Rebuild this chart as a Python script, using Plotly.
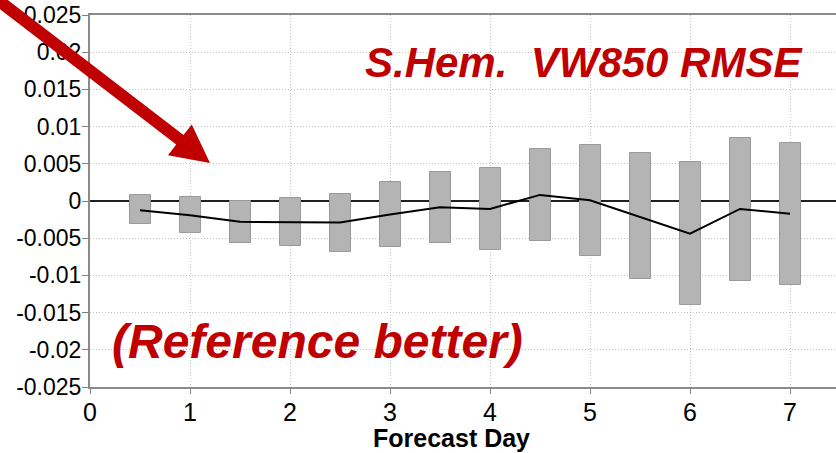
import math
import plotly.graph_objects as go

# Forecast day for each verification point
days = [0.5, 1.0, 1.5, 2.0, 2.5, 3.0, 3.5, 4.0, 4.5, 5.0, 5.5, 6.0, 6.5, 7.0]
# Mean RMSE difference (experiment minus reference)
mean_diff = [-0.00125, -0.0019, -0.0028, -0.0028, -0.0029, -0.0018, -0.00085, -0.00107,
             0.00082, 0.0001, -0.0021, -0.0044, -0.00107, -0.0017]
# Confidence interval bounds
ci_upper = [0.00086, 0.00055, 0.00005, 0.0004, 0.00095, 0.0025, 0.0039, 0.0045,
            0.0070, 0.0075, 0.0065, 0.0053, 0.0085, 0.0078]
ci_lower = [-0.0031, -0.0043, -0.0057, -0.0061, -0.0068, -0.0062, -0.0056, -0.0066,
            -0.0054, -0.0074, -0.0105, -0.0140, -0.0107, -0.0113]

x_ticks = [0, 1, 2, 3, 4, 5, 6, 7]
y_ticks = [0.025, 0.02, 0.015, 0.01, 0.005, 0, -0.005, -0.01, -0.015, -0.02, -0.025]
y_tick_text = ["0.025", "0.02", "0.015", "0.01", "0.005", "0", "-0.005", "-0.01",
               "-0.015", "-0.02", "-0.025"]

W, H = 836, 453
ML, MR, MT, MB = 90, 0, 15, 66
PW, PH = W - ML - MR, H - MT - MB

FONT = "Liberation Sans, Arial, Helvetica, sans-serif"
RED = "#c00000"

fig = go.Figure()

fig.add_trace(go.Bar(
    x=days,
    base=ci_lower,
    y=[u - l for u, l in zip(ci_upper, ci_lower)],
    width=0.21,
    marker=dict(color="#b4b4b4", line=dict(color="#9a9a9a", width=1)),
    hoverinfo="skip",
    showlegend=False,
))

fig.add_trace(go.Scatter(
    x=days, y=mean_diff, mode="lines",
    line=dict(color="black", width=2),
    showlegend=False,
))


# Arrow pointing into the plot from the top-left corner, built in pixel space
def to_paper(px, py):
    return (px - ML) / PW, (H - MB - py) / PH


tip = (210.0, 163.0)
dx, dy = 147.0, 113.0
n = math.hypot(dx, dy)
d = (dx / n, dy / n)
nrm = (-d[1], d[0])
head_len, head_half, shaft_half = 38.0, 19.5, 6.0
base = (tip[0] - head_len * d[0], tip[1] - head_len * d[1])
tail = (base[0] - 400 * d[0], base[1] - 400 * d[1])
pts = [
    tip,
    (base[0] + head_half * nrm[0], base[1] + head_half * nrm[1]),
    (base[0] + shaft_half * nrm[0], base[1] + shaft_half * nrm[1]),
    (tail[0] + shaft_half * nrm[0], tail[1] + shaft_half * nrm[1]),
    (tail[0] - shaft_half * nrm[0], tail[1] - shaft_half * nrm[1]),
    (base[0] - shaft_half * nrm[0], base[1] - shaft_half * nrm[1]),
    (base[0] - head_half * nrm[0], base[1] - head_half * nrm[1]),
]
path = "M " + " L ".join("%.5f,%.5f" % to_paper(*p) for p in pts) + " Z"
fig.add_shape(type="path", path=path, xref="paper", yref="paper",
              fillcolor=RED, line=dict(width=0), layer="above")

fig.add_annotation(
    x=(584 - ML) / PW, y=(H - MB - 62) / PH, xref="paper", yref="paper",
    text="<b><i>S.Hem.  VW850 RMSE</i></b>", showarrow=False,
    font=dict(family=FONT, size=42, color=RED), xanchor="center", yanchor="middle",
)
fig.add_annotation(
    x=(317 - ML) / PW, y=(H - MB - 341) / PH, xref="paper", yref="paper",
    text="<b><i>(Reference better)</i></b>", showarrow=False,
    font=dict(family=FONT, size=48, color=RED), xanchor="center", yanchor="middle",
)
fig.add_annotation(
    x=(451 - ML) / PW, y=(H - MB - 438) / PH, xref="paper", yref="paper",
    text="<b>Forecast Day</b>", showarrow=False,
    font=dict(family=FONT, size=25, color="black"), xanchor="center", yanchor="middle",
)

GRID = dict(showgrid=True, gridcolor="#c4c4c4", griddash="1px,2px", gridwidth=1)

fig.update_layout(
    width=W, height=H,
    margin=dict(l=ML, r=MR, t=MT, b=MB, pad=0),
    paper_bgcolor="white", plot_bgcolor="white",
    bargap=0,
    font=dict(family=FONT, color="black"),
    xaxis=dict(
        range=[0, PW / 100.0],
        tickvals=x_ticks, ticktext=[str(v) for v in x_ticks],
        tickfont=dict(size=25),
        ticks="outside", ticklen=5, tickcolor="#808080", tickwidth=1,
        ticklabelstandoff=-3,
        showline=True, linecolor="#8a8a8a", linewidth=2, mirror=True,
        zeroline=False,
        **GRID,
    ),
    yaxis=dict(
        range=[-0.025, 0.025],
        tickvals=y_ticks, ticktext=y_tick_text,
        tickfont=dict(size=23),
        ticks="outside", ticklen=6, tickcolor="#808080", tickwidth=1,
        ticklabelstandoff=-4,
        showline=True, linecolor="#8a8a8a", linewidth=2,
        zeroline=True, zerolinecolor="#202020", zerolinewidth=2,
        **GRID,
    ),
)

fig.write_html("out.html")
